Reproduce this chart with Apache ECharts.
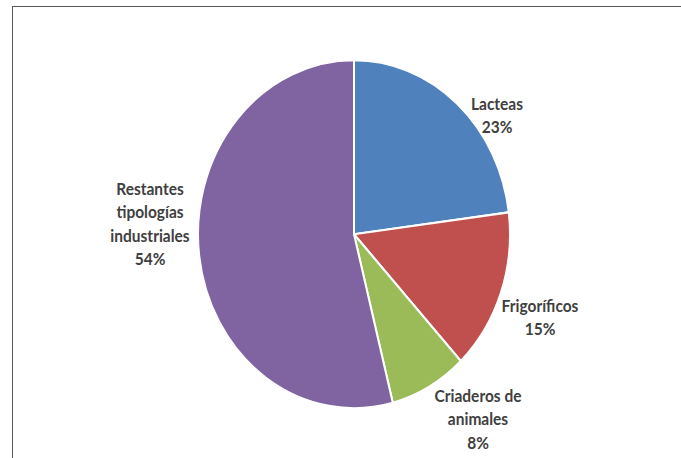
<!DOCTYPE html>
<html>
<head>
<meta charset="utf-8">
<script src="https://cdn.jsdelivr.net/npm/echarts@6/dist/echarts.min.js"></script>
<style>
  html, body { margin: 0; padding: 0; background: #fff; overflow: hidden; }
  #wrap { position: relative; width: 681px; height: 458px; overflow: hidden; }
  #frame { position: absolute; left: 12px; top: 6px; width: 700px; height: 470px; border: 1.5px solid #5a5a5a; box-sizing: border-box; }
  #chart { position: absolute; left: 0; top: 0; width: 681px; height: 411px; transform: scaleY(1.1154); transform-origin: 0 0; }
</style>
</head>
<body>
<div id="wrap">
  <div id="frame"></div>
  <div id="chart"></div>
</div>
<script>
const categories = ["Lacteas", "Frigoríficos", "Criaderos de\nanimales", "Restantes\ntipologías\nindustriales"];
const values = [23, 15, 8, 54];
const colors = ["#4F81BD", "#C0504D", "#9BBB59", "#8064A2"];
const labelPos = [[497, 103], [540, 284], [478, 375], [150, 200]];

const chart = echarts.init(document.getElementById('chart'), null, { renderer: 'svg' });
chart.setOption({
  animation: false,
  series: [{
    type: 'pie',
    center: [354, 210],
    radius: 156,
    startAngle: 90,
    clockwise: true,
    percentPrecision: 0,
    data: categories.map((c, i) => ({ name: c, value: values[i], itemStyle: { color: colors[i] } })),
    itemStyle: { borderColor: '#fff', borderWidth: 2 },
    label: {
      show: true,
      position: 'outside',
      formatter: '{b}\n{d}%',
      fontFamily: 'Lato',
      fontWeight: 'bold',
      fontSize: 15.5,
      lineHeight: 21,
      color: '#404040',
      align: 'center'
    },
    labelLine: { show: false },
    labelLayout: function (p) {
      const pos = labelPos[p.dataIndex];
      return { x: pos[0], y: pos[1], align: 'center', verticalAlign: 'middle' };
    },
    emphasis: { disabled: true }
  }]
});
</script>
</body>
</html>
